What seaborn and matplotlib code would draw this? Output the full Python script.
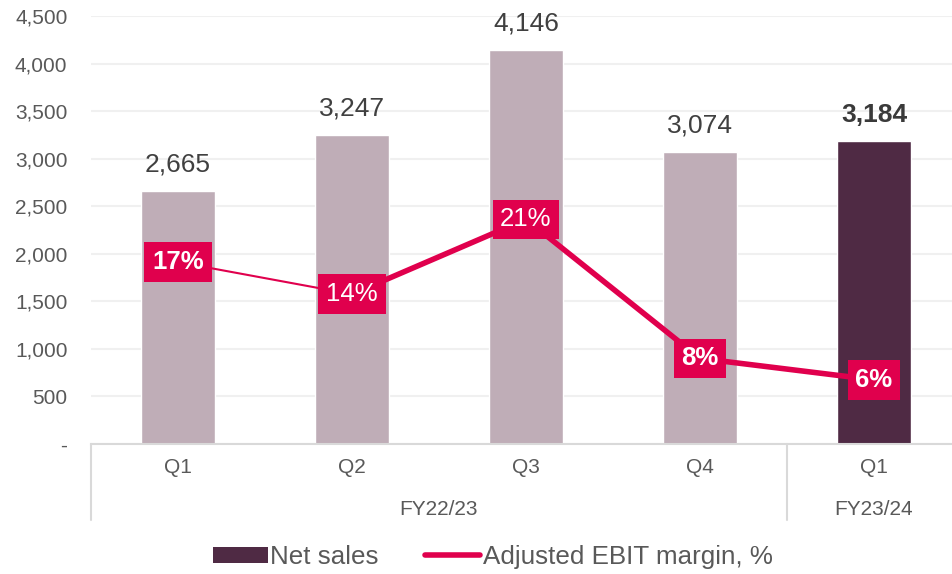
import matplotlib
matplotlib.use('Agg')
import matplotlib.pyplot as plt
import seaborn as sns
import pandas as pd
from matplotlib.patches import Patch
from matplotlib.lines import Line2D
from matplotlib.ticker import FuncFormatter

# Data
quarters = ['Q1', 'Q2', 'Q3', 'Q4', 'Q1']
years = ['FY22/23', 'FY22/23', 'FY22/23', 'FY22/23', 'FY23/24']
net_sales = [2665, 3247, 4146, 3074, 3184]
ebit_margin = [17, 14, 21, 8, 6]
margin_bold = [True, False, False, True, True]

LIGHT = '#BFADB7'
DARK = '#4F2A44'
PINK = '#E0004D'
GREY = '#595959'

sns.set_theme(style='white')
plt.rcParams['font.family'] = ['Liberation Sans', 'DejaVu Sans']

df = pd.DataFrame({
    'period': [f'{y} {q}' for y, q in zip(years, quarters)],
    'sales': net_sales,
    'margin': ebit_margin,
})
df['pos'] = range(len(df))

fig = plt.figure(figsize=(9.53, 5.74), dpi=100)
ax = fig.add_axes([91 / 953, 1 - 444 / 574, 870 / 953, 428 / 574])

# Bars
sns.barplot(data=df, x='period', y='sales', hue='period',
            palette=[LIGHT] * 4 + [DARK], legend=False, width=0.43,
            saturation=1, ax=ax)
ax.set_xlim(-0.5, 4.5)
ax.set_ylim(0, 4500)
ax.set_yticks(range(0, 4501, 500))
ax.yaxis.set_major_formatter(FuncFormatter(lambda v, p: '-' if v == 0 else f'{int(v):,}'))
ax.tick_params(axis='y', length=0, pad=17, labelsize=15, labelcolor=GREY)
ax.set_xticks([])
ax.set_xlabel('')
ax.set_ylabel('')
ax.grid(axis='y', color='#F0F0F0', linewidth=1.5)
ax.set_axisbelow(True)
for s in ['top', 'right', 'left']:
    ax.spines[s].set_visible(False)
ax.spines['bottom'].set_color('#D9D9D9')
ax.spines['bottom'].set_linewidth(1.5)

# Bar value labels
for i, v in enumerate(net_sales):
    last = i == len(net_sales) - 1
    ax.annotate(f'{v:,}', (i, v), xytext=(0, 19), textcoords='offset points',
                ha='center', va='center', fontsize=19,
                color='#3A3A3A' if last else '#404040',
                fontweight='bold' if last else 'normal')

# Category axis (quarters + fiscal years)
trans = ax.get_xaxis_transform()
for i, q in enumerate(quarters):
    ax.text(i, -0.056, q, transform=trans, ha='center', va='center',
            fontsize=15, color=GREY)
ax.text(1.5, -0.152, 'FY22/23', transform=trans, ha='center', va='center',
        fontsize=15, color=GREY)
ax.text(4, -0.152, 'FY23/24', transform=trans, ha='center', va='center',
        fontsize=15, color=GREY)
for xs in [-0.5, 3.5, 4.5]:
    ax.plot([xs, xs], [0, -0.178], transform=trans, color='#D9D9D9',
            lw=1.5, clip_on=False)

# Margin line on hidden secondary axis
ax2 = ax.twinx()
sns.lineplot(data=df.iloc[:2], x='pos', y='margin', color=PINK, lw=1.5, ax=ax2)
sns.lineplot(data=df.iloc[1:], x='pos', y='margin', color=PINK, lw=4, ax=ax2)
ax2.set_ylim(0, 40)
ax2.set_xlim(-0.5, 4.5)
ax2.axis('off')
for i, m in enumerate(ebit_margin):
    ax2.text(i, m, f'{m}%', ha='center', va='center', fontsize=18.5,
             color='white', fontweight='bold' if margin_bold[i] else 'normal',
             bbox=dict(boxstyle='square,pad=0.3', facecolor=PINK, edgecolor='none'))

# Legend
handles = [Patch(facecolor=DARK, edgecolor='none'),
           Line2D([], [], color=PINK, lw=4)]
fig.legend(handles, ['Net sales', 'Adjusted EBIT margin, %'], loc='center',
           bbox_to_anchor=(0.517, 1 - 557 / 574), ncol=2, frameon=False,
           fontsize=18.7, handlelength=2.1, handleheight=0.55,
           handletextpad=0.1, columnspacing=1.8, labelcolor=GREY)

fig.savefig('out.png', dpi=100)
